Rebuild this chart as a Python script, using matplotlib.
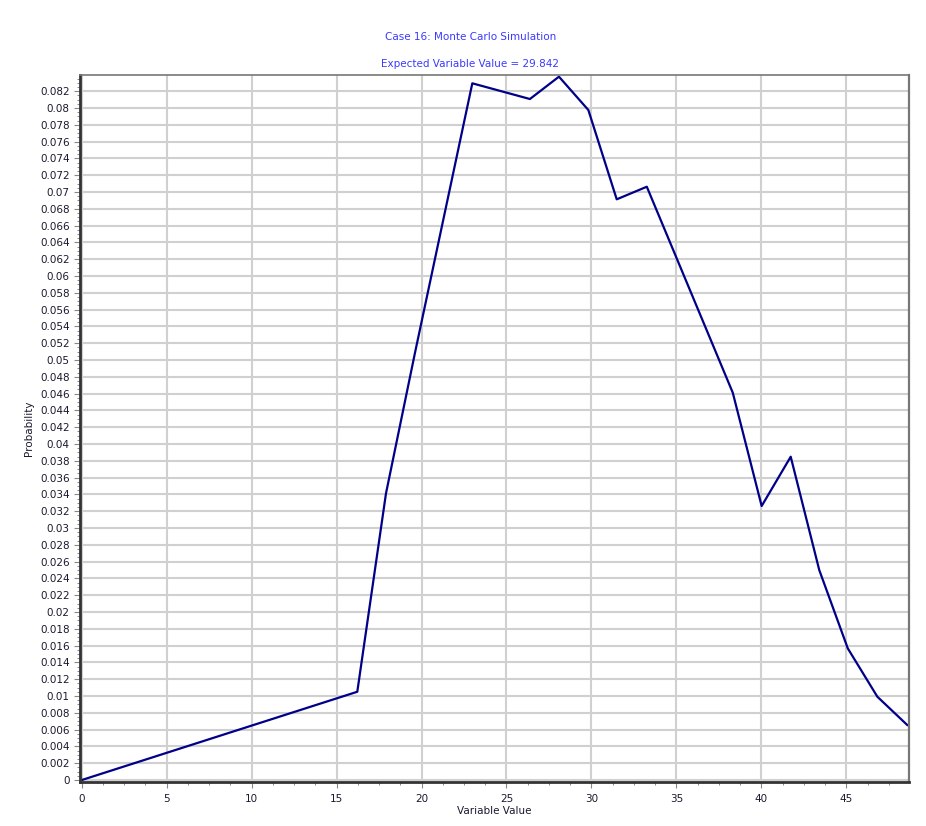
import matplotlib.pyplot as plt
from matplotlib.ticker import MultipleLocator, FuncFormatter

# values
var_value = [0.0, 16.22, 17.91, 19.62, 22.99, 26.38, 28.09, 29.82, 31.49, 33.26,
             38.32, 40.02, 41.73, 43.41, 45.09, 46.83, 48.59]
probability = [0.0, 0.01051, 0.03413, 0.0509, 0.08294, 0.08107, 0.08373, 0.07976,
               0.06913, 0.07063, 0.04611, 0.03262, 0.03849, 0.0250, 0.01567,
               0.00992, 0.00655]

title1 = "Case 16: Monte Carlo Simulation"
title2 = "Expected Variable Value = 29.842"

fig = plt.figure(figsize=(9.26, 8.26), dpi=100)
ax = fig.add_axes([0.0864, 0.0536, 0.8952, 0.855])

ax.plot(var_value, probability, color="#000088", linewidth=1.6)

ax.set_xlim(-0.1, 48.69)
ax.set_ylim(-0.0002, 0.08387)

ax.xaxis.set_major_locator(MultipleLocator(5))
ax.xaxis.set_minor_locator(MultipleLocator(1.25))
ax.yaxis.set_major_locator(MultipleLocator(0.002))
ax.yaxis.set_minor_locator(MultipleLocator(0.0005))
ax.yaxis.set_major_formatter(FuncFormatter(lambda v, p: ("%.3f" % v).rstrip("0").rstrip(".") if abs(v) > 1e-9 else "0"))

ax.grid(True, which="major", color="#d0d0d0", linewidth=1.5)
ax.set_axisbelow(True)

ax.tick_params(axis="both", which="major", labelsize=7.5, labelcolor="#1a1a2e",
               length=4, width=0.8, color="#888888")
ax.tick_params(axis="both", which="minor", length=2.5, width=0.7, color="#888888")
ax.tick_params(axis="x", which="major", pad=5)

for s in ["left", "bottom"]:
    ax.spines[s].set_color("#333333")
    ax.spines[s].set_linewidth(2.0)
ax.spines["top"].set_color("#777777")
ax.spines["top"].set_linewidth(1.2)
ax.spines["right"].set_color("#777777")
ax.spines["right"].set_linewidth(1.6)

ax.set_xlabel("Variable Value", fontsize=7.5, color="#1a1a2e", labelpad=1)
ax.set_ylabel("Probability", fontsize=7.5, color="#1a1a2e", labelpad=4)

fig.text(0.508, 0.955, title1, ha="center", va="center", fontsize=7.5, color="#3a3aff")
fig.text(0.508, 0.923, title2, ha="center", va="center", fontsize=7.5, color="#3a3aff")

fig.savefig("out.png", dpi=100)
